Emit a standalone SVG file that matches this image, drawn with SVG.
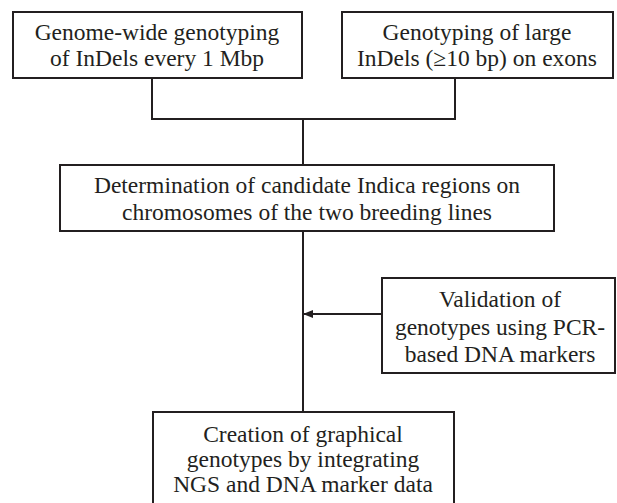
<svg xmlns="http://www.w3.org/2000/svg" width="617" height="503" viewBox="0 0 617 503">
<defs>
<style>
.box{fill:#fff;stroke:#231f20;stroke-width:2}
.t{font-family:'Liberation Serif',serif;font-size:23.5px;fill:#231f20;text-anchor:middle}
.c{fill:none;stroke:#231f20;stroke-width:2}
</style>
<marker id="ah" markerWidth="10" markerHeight="8" refX="9" refY="4" orient="auto" markerUnits="userSpaceOnUse">
<path d="M0,0 L10,4 L0,8 Z" fill="#231f20"/>
</marker>
</defs>
<rect width="617" height="503" fill="#fff"/>
<g id="connectors">
<path class="c" d="M152,78 V119 H455 V78"/>
<path class="c" d="M303,119 V165"/>
<path class="c" d="M303,231 V412"/>
<path class="c" d="M382,314 H304" marker-end="url(#ah)"/>
</g>
<g id="n1">
<rect class="box" x="13" y="12" width="289" height="66"/>
<text class="t" x="157" y="40">Genome-wide genotyping</text>
<text class="t" x="157" y="66">of InDels every 1 Mbp</text>
</g>
<g id="n2">
<rect class="box" x="342" y="12" width="271" height="66"/>
<text class="t" x="477" y="40">Genotyping of large</text>
<text class="t" x="477" y="66">InDels (≥10 bp) on exons</text>
</g>
<g id="n3">
<rect class="box" x="60" y="165" width="494" height="66"/>
<text class="t" x="307" y="193">Determination of candidate Indica regions on</text>
<text class="t" x="307" y="220">chromosomes of the two breeding lines</text>
</g>
<g id="n4">
<rect class="box" x="382" y="278" width="233" height="95"/>
<text class="t" x="500" y="307">Validation of</text>
<text class="t" x="500" y="335">genotypes using PCR-</text>
<text class="t" x="500" y="362">based DNA markers</text>
</g>
<g id="n5">
<rect class="box" x="153" y="412" width="301" height="100"/>
<text class="t" x="303" y="442">Creation of graphical</text>
<text class="t" x="303" y="467">genotypes by integrating</text>
<text class="t" x="303" y="492">NGS and DNA marker data</text>
</g>
</svg>
